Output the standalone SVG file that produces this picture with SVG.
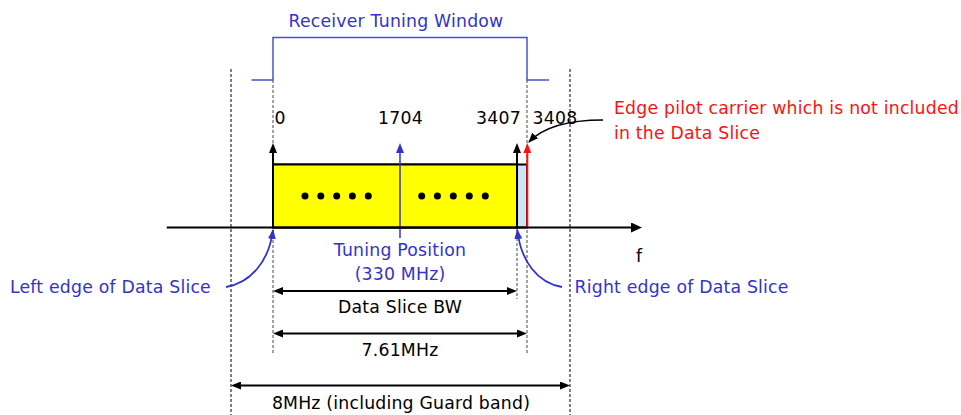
<svg xmlns="http://www.w3.org/2000/svg" width="961" height="415" viewBox="0 0 961 415">
<style>
text{font-family:"DejaVu Sans","Liberation Sans",sans-serif;font-size:17.3px;fill:#000;letter-spacing:0.2px}
.blue{fill:#3333cc}
.red{fill:#ff1111}
.mid{text-anchor:middle}
.dash{stroke:#000;stroke-width:1;stroke-dasharray:3,2;fill:none}
.dashg{stroke:#444;stroke-width:1;stroke-dasharray:3,2;fill:none}
.blk{stroke:#000;stroke-width:2;fill:none}
</style>
<defs>
<marker id="ah" markerUnits="userSpaceOnUse" markerWidth="10" markerHeight="8" refX="3" refY="4" orient="auto-start-reverse"><path d="M0,0 L10,4 L0,8 z" fill="#000"/></marker>
<marker id="ahb" markerUnits="userSpaceOnUse" markerWidth="10" markerHeight="8" refX="3" refY="4" orient="auto-start-reverse"><path d="M0,0 L10,4 L0,8 z" fill="#3333cc"/></marker>
<marker id="ahr" markerUnits="userSpaceOnUse" markerWidth="10" markerHeight="8" refX="3" refY="4" orient="auto-start-reverse"><path d="M0,0 L10,4 L0,8 z" fill="#ff1111"/></marker>
<marker id="ahc" markerUnits="userSpaceOnUse" markerWidth="10" markerHeight="8" refX="9" refY="4" orient="auto"><path d="M0,0 L10,4 L0,8 z" fill="#000"/></marker>
<marker id="ahbc" markerUnits="userSpaceOnUse" markerWidth="10" markerHeight="8" refX="9" refY="4" orient="auto"><path d="M0,0 L10,4 L0,8 z" fill="#3333cc"/></marker>
<marker id="aha" markerUnits="userSpaceOnUse" markerWidth="11" markerHeight="10" refX="3" refY="5" orient="auto"><path d="M0,0 L11,5 L0,10 z" fill="#000"/></marker>
</defs>

<g id="guides">
<line class="dash" x1="231" y1="69" x2="231" y2="415"/>
<line class="dash" x1="570" y1="69" x2="570" y2="415"/>
<line class="dashg" x1="273" y1="80" x2="273" y2="355"/>
<line class="dashg" x1="527" y1="80" x2="527" y2="355"/>
<line class="dashg" x1="517" y1="228" x2="517" y2="299"/>
</g>

<g id="tuning-window">
<path d="M251.5,80 H273 V37.5 H527 V80 H549" fill="none" stroke="#4455cc" stroke-width="1.5"/>
<text class="blue mid" x="396" y="27">Receiver Tuning Window</text>
</g>

<g id="data-slice">
<rect x="273" y="164.5" width="254" height="63" fill="#cce6f8" stroke="#000" stroke-width="2"/>
<rect x="273" y="164.5" width="244" height="63" fill="#ffff00" stroke="#000" stroke-width="2"/>
<g fill="#000">
<circle cx="305" cy="196" r="3.5"/><circle cx="320.8" cy="196" r="3.5"/><circle cx="336.7" cy="196" r="3.5"/><circle cx="352.4" cy="196" r="3.5"/><circle cx="368.3" cy="196" r="3.5"/>
<circle cx="421.7" cy="196" r="3.5"/><circle cx="437.4" cy="196" r="3.5"/><circle cx="453.3" cy="196" r="3.5"/><circle cx="469.3" cy="196" r="3.5"/><circle cx="485.3" cy="196" r="3.5"/>
</g>
</g>

<g id="carriers">
<line class="blk" x1="273" y1="227.5" x2="273" y2="150" marker-end="url(#ah)"/>
<line class="blk" x1="517" y1="227.5" x2="517" y2="150" marker-end="url(#ah)"/>
<line x1="527.3" y1="228" x2="527.3" y2="150" stroke="#ff1111" stroke-width="2" marker-end="url(#ahr)"/>
<line x1="400" y1="238" x2="400" y2="150" stroke="#3333cc" stroke-width="1.5" marker-end="url(#ahb)"/>
<text x="274.5" y="124">0</text>
<text class="mid" x="400.5" y="124">1704</text>
<text class="mid" x="498.5" y="124">3407</text>
<text class="mid" x="555" y="124">3408</text>
</g>

<g id="axis">
<line class="blk" x1="166.7" y1="227.5" x2="634" y2="227.5" marker-end="url(#aha)"/>
<text x="636" y="262">f</text>
</g>

<g id="connectors">
<path d="M603,120 C572,120 545,125 529,142" fill="none" stroke="#000" stroke-width="1.6" marker-end="url(#ahc)"/>
<path d="M226,287 C250,283 269,262 273,230" fill="none" stroke="#3333cc" stroke-width="1.8" marker-end="url(#ahbc)"/>
<path d="M562,287 C538,283 521,262 517.3,230" fill="none" stroke="#3333cc" stroke-width="1.8" marker-end="url(#ahbc)"/>
</g>

<g id="labels">
<text class="red" x="614" y="114">Edge pilot carrier which is not included</text>
<text class="red" x="614" y="139">in the Data Slice</text>
<text class="blue mid" x="400" y="256">Tuning Position</text>
<text class="blue mid" x="400" y="280">(330 MHz)</text>
<text class="blue" x="10" y="293">Left edge of Data Slice</text>
<text class="blue" x="574.5" y="293">Right edge of Data Slice</text>
</g>

<g id="dimensions">
<line class="blk" x1="280" y1="291" x2="510" y2="291" marker-start="url(#ah)" marker-end="url(#ah)"/>
<text class="mid" x="400" y="313">Data Slice BW</text>
<line class="blk" x1="280" y1="333.5" x2="520" y2="333.5" marker-start="url(#ah)" marker-end="url(#ah)"/>
<text class="mid" x="400" y="356">7.61MHz</text>
<line class="blk" x1="238" y1="385.5" x2="563" y2="385.5" marker-start="url(#ah)" marker-end="url(#ah)"/>
<text class="mid" x="401" y="409">8MHz (including Guard band)</text>
</g>
</svg>
